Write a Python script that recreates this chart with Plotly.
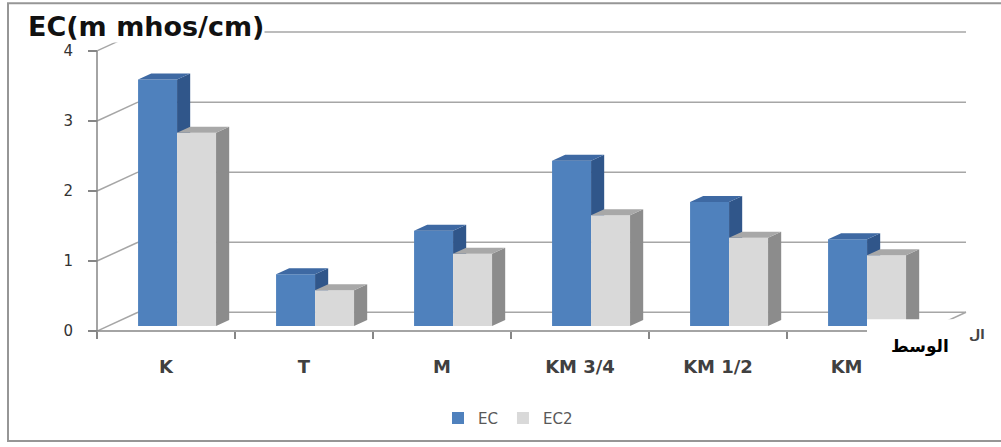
import plotly.graph_objects as go

# ---- data -------------------------------------------------------------
categories = ["K", "T", "M", "KM 3/4", "KM 1/2", "KM 1"]
ec = [3.52, 0.74, 1.36, 2.36, 1.77, 1.24]
ec2 = [2.76, 0.51, 1.03, 1.58, 1.26, 1.01]
y_ticks = [0, 1, 2, 3, 4]

# ---- page / plot frame (pixels) --------------------------------------
W, H = 1001, 447
L, R, T, B = 94, 31, 24, 105
X0_PX, PX_PER_X = 97, 138.0      # front-left corner of the floor, px per category
Y0_PX, PX_PER_Y = 334, 70.7      # value 0 on the front plane, px per unit

plot_w = W - L - R
plot_h = H - T - B
x_min = -0.5 - (X0_PX - L) / PX_PER_X
x_max = x_min + plot_w / PX_PER_X
y_min = -(H - B - Y0_PX) / PX_PER_Y
y_max = y_min + plot_h / PX_PER_Y


def px(xp):
    return (xp - L) / plot_w


def py(yp):
    return (H - B - yp) / plot_h


# oblique projection of the depth axis (data units)
DEPTH_X = 41 / PX_PER_X
DEPTH_Y = 19 / PX_PER_Y
FRONT, BACK = 0.27, 0.59
fx, fy = FRONT * DEPTH_X, FRONT * DEPTH_Y
ddx, ddy = (BACK - FRONT) * DEPTH_X, (BACK - FRONT) * DEPTH_Y
bar_w = 39 / PX_PER_X

GRID = "#A6A6A6"
AXIS = "#868686"
n = len(categories)
idx = list(range(n))

series = [
    # name, values, front, top, side, slot
    ("EC", ec, "#4F81BD", "#3E69A3", "#30568A", -0.5),
    ("EC2", ec2, "#D9D9D9", "#A8A8A8", "#8C8C8C", 0.5),
]

fig = go.Figure()

# front faces of the columns
for name, vals, c_front, c_top, c_side, slot in series:
    fig.add_trace(go.Bar(
        x=[i + slot * bar_w + fx for i in idx], y=vals, base=fy, width=bar_w,
        name=name, marker=dict(color=c_front, line=dict(width=0)),
        hoverinfo="skip",
    ))

# top and side faces, built from the same values
for k, (name, vals, c_front, c_top, c_side, slot) in enumerate(series):
    top_x, top_y, side_x, side_y = [], [], [], []
    for i in idx:
        v = vals[i]
        xl = i + slot * bar_w + fx - bar_w / 2
        xr = xl + bar_w
        vt = v + fy
        top_x += [xl, xr, xr + ddx, xl + ddx, xl, None]
        top_y += [vt, vt, vt + ddy, vt + ddy, vt, None]
        if k == 0:
            # the lower part of this side sits behind the neighbouring column
            low = min(ec2[i], v) + fy
            low_b = max(low, fy + ddy)
        else:
            low, low_b = fy, fy + ddy
        side_x += [xr, xr, xr + ddx, xr + ddx, xr, None]
        side_y += [low, vt, vt + ddy, low_b, low, None]
    fig.add_trace(go.Scatter(x=side_x, y=side_y, mode="lines", fill="toself",
                             fillcolor=c_side, line=dict(width=0),
                             showlegend=False, hoverinfo="skip"))
    fig.add_trace(go.Scatter(x=top_x, y=top_y, mode="lines", fill="toself",
                             fillcolor=c_top, line=dict(width=0),
                             showlegend=False, hoverinfo="skip"))

# walls, gridlines and floor edges
shapes = []
for v in y_ticks:
    shapes.append(dict(type="line", xref="x", yref="y", layer="below",
                       x0=-0.5, y0=v, x1=-0.5 + DEPTH_X, y1=v + DEPTH_Y,
                       line=dict(color=GRID, width=1.5)))
    shapes.append(dict(type="line", xref="x", yref="y", layer="below",
                       x0=-0.5 + DEPTH_X, y0=v + DEPTH_Y,
                       x1=n - 0.5 + DEPTH_X, y1=v + DEPTH_Y,
                       line=dict(color=GRID, width=1.5)))
shapes += [
    dict(type="line", xref="x", yref="y", layer="below",
         x0=-0.5, y0=0, x1=-0.5, y1=y_ticks[-1], line=dict(color=AXIS, width=1.5)),
    dict(type="line", xref="x", yref="y", layer="below",
         x0=-0.5, y0=0, x1=n - 0.5, y1=0, line=dict(color=AXIS, width=1.5)),
    dict(type="line", xref="x", yref="y", layer="below",
         x0=n - 0.5, y0=0, x1=n - 0.5 + DEPTH_X, y1=DEPTH_Y,
         line=dict(color=GRID, width=1.5)),
    # pasted white label box over the lower right corner
    dict(type="rect", xref="paper", yref="paper", layer="above",
         x0=px(867), x1=px(957), y0=py(322), y1=py(398),
         fillcolor="white", line=dict(width=0)),
    # outer frame
    dict(type="rect", xref="paper", yref="paper", layer="above",
         x0=px(8), x1=px(1012), y0=py(3), y1=py(445),
         fillcolor="rgba(0,0,0,0)", line=dict(color="#969696", width=2)),
]

annotations = [
    dict(text="EC(m mhos/cm)", xref="paper", yref="paper",
         x=px(27), y=py(27), xanchor="left", yanchor="middle",
         showarrow=False, bgcolor="white", borderpad=0,
         font=dict(family="DejaVu Sans", size=27, color="#111111", weight="bold")),
    dict(text="الوسط", xref="paper", yref="paper",
         x=px(920), y=py(350), xanchor="center", yanchor="middle",
         showarrow=False,
         font=dict(family="DejaVu Sans", size=17, color="#000000", weight="bold")),
    dict(text="ال", xref="paper", yref="paper",
         x=px(977), y=py(337), xanchor="center", yanchor="middle",
         showarrow=False,
         font=dict(family="DejaVu Sans", size=13, color="#444444", weight="bold")),
]

fig.update_layout(
    width=W, height=H,
    margin=dict(l=L, r=R, t=T, b=B, pad=0),
    paper_bgcolor="white", plot_bgcolor="white",
    barmode="overlay",
    shapes=shapes,
    annotations=annotations,
    showlegend=True,
    legend=dict(orientation="h", x=px(508), xanchor="center",
                y=py(422), yanchor="middle", bgcolor="rgba(0,0,0,0)",
                font=dict(family="DejaVu Sans", size=15, color="#595959"),
                itemwidth=30, tracegroupgap=0),
    xaxis=dict(range=[x_min, x_max], showgrid=False, zeroline=False, showline=False,
               tickmode="array", tickvals=idx, ticktext=categories,
               ticks="outside", ticklen=19, tickcolor="rgba(0,0,0,0)",
               tickfont=dict(family="DejaVu Sans", size=18, color="#404040", weight="bold"),
               minor=dict(tickmode="array", tickvals=[i - 0.5 for i in range(n + 1)],
                          ticks="outside", ticklen=7, tickwidth=1.5, tickcolor=AXIS,
                          showgrid=False),
               anchor="free", position=py(Y0_PX), fixedrange=True),
    yaxis=dict(range=[y_min, y_max], showgrid=False, zeroline=False, showline=False,
               tickmode="array", tickvals=y_ticks,
               ticks="outside", ticklen=9, tickwidth=1.5, tickcolor=AXIS,
               ticklabelstandoff=12,
               tickfont=dict(family="DejaVu Sans", size=15, color="#333333"),
               anchor="free", position=px(X0_PX), fixedrange=True),
)

fig.write_html("out.html")
